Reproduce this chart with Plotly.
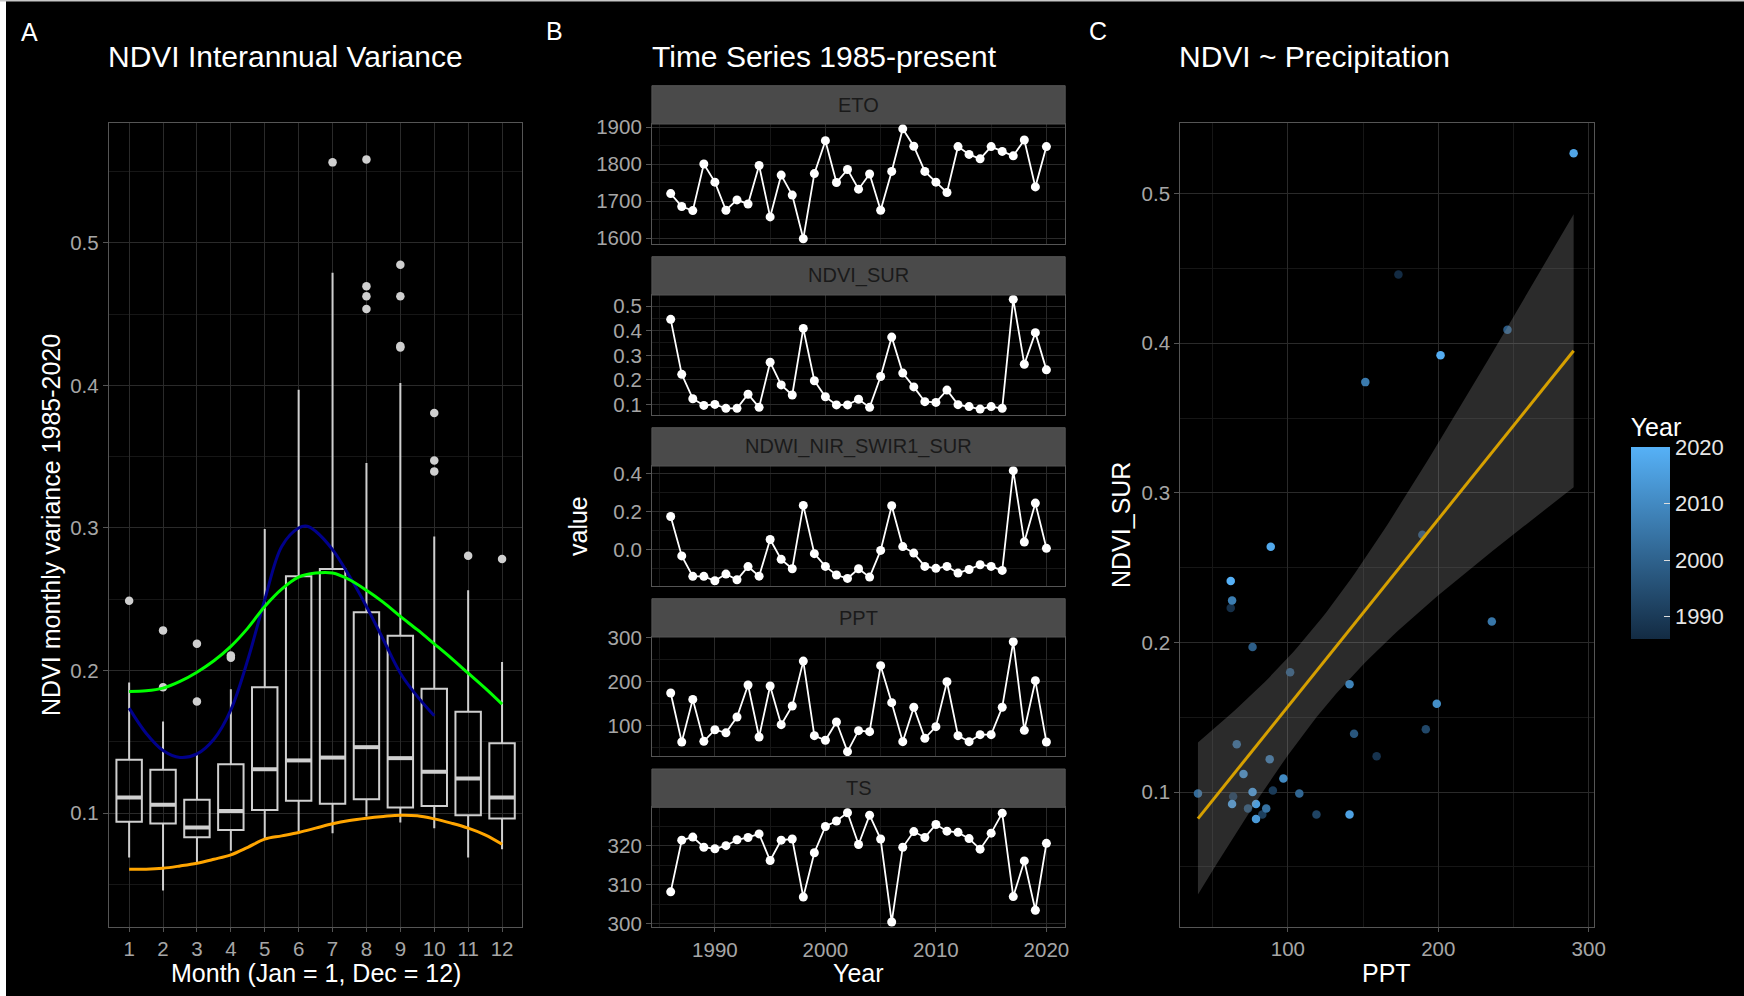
import numpy as np
import plotly.graph_objects as go

W, H = 1744, 996
FONT = "Liberation Sans, Arial, sans-serif"

# ---------------- Panel A data ----------------
months = list(range(1, 13))
box_lower = [0.0689, 0.0457, 0.0649, 0.0736, 0.0825, 0.0871, 0.0860, 0.0977, 0.0934, 0.0895, 0.0689, 0.0747]
box_q1 = [0.0940, 0.0927, 0.0832, 0.0883, 0.1023, 0.1087, 0.1066, 0.1098, 0.1040, 0.1051, 0.0986, 0.0963]
box_med = [0.1110, 0.1060, 0.0900, 0.1016, 0.1309, 0.1370, 0.1390, 0.1463, 0.1386, 0.1290, 0.1243, 0.1110]
box_q3 = [0.1374, 0.1304, 0.1094, 0.1344, 0.1884, 0.2661, 0.2712, 0.2410, 0.2244, 0.1873, 0.1711, 0.1491]
box_upper = [0.1917, 0.1643, 0.1410, 0.1870, 0.2993, 0.3970, 0.4790, 0.3455, 0.4017, 0.2940, 0.2563, 0.2060]
out_month = [1, 2, 2, 3, 3, 4, 4, 7, 8, 8, 8, 8, 9, 9, 9, 9, 10, 10, 10, 11, 12]
out_value = [0.249, 0.2282, 0.1884, 0.2188, 0.1784, 0.2105, 0.2090, 0.5564, 0.5585, 0.4696, 0.4625,
             0.4536, 0.4846, 0.4625, 0.4277, 0.4265, 0.3806, 0.3474, 0.3397, 0.2806, 0.2782]

green_x = [1, 1.5, 2, 2.5, 3, 3.5, 4, 4.5, 5, 5.5, 6, 6.5, 7, 7.5, 8, 8.5, 9, 9.5, 10, 10.5, 11, 11.5, 12]
green_y = [0.1854, 0.1858, 0.1877, 0.1924, 0.1989, 0.2069, 0.2170, 0.2298, 0.2450, 0.2572, 0.2656, 0.2684,
           0.2684, 0.2637, 0.2563, 0.2478, 0.2380, 0.2287, 0.2188, 0.2088, 0.1982, 0.1877, 0.1765]
blue_x = [1, 1.5, 2, 2.5, 3, 3.5, 4, 4.5, 5, 5.5, 6, 6.25, 6.5, 7, 7.5, 8, 8.5, 9, 9.5, 10]
blue_y = [0.1737, 0.1561, 0.1440, 0.1391, 0.1416, 0.1519, 0.1725, 0.2076, 0.2497, 0.2871, 0.3000, 0.3012,
          0.2977, 0.2848, 0.2661, 0.2450, 0.2216, 0.1982, 0.1819, 0.1683]
orange_x = green_x
orange_y = [0.0607, 0.0607, 0.0614, 0.0630, 0.0649, 0.0677, 0.0708, 0.0761, 0.0818, 0.0841, 0.0865, 0.0895,
            0.0926, 0.0949, 0.0965, 0.0977, 0.0986, 0.0982, 0.0960, 0.0930, 0.0895, 0.0848, 0.0782]

# ---------------- Panel B data ----------------
years = list(range(1986, 2021))
eto = [1720, 1685, 1674, 1800, 1751, 1675, 1703, 1692, 1796, 1657, 1770, 1716, 1598, 1774, 1863, 1750,
       1785, 1732, 1773, 1675, 1780, 1895, 1848, 1780, 1751, 1723, 1847, 1826, 1814, 1847, 1834, 1822,
       1865, 1738, 1847]
ndvi_sur = [0.446, 0.223, 0.124, 0.097, 0.101, 0.085, 0.085, 0.142, 0.089, 0.272, 0.180, 0.139, 0.409,
            0.197, 0.132, 0.099, 0.099, 0.122, 0.089, 0.214, 0.374, 0.228, 0.172, 0.112, 0.109, 0.159,
            0.100, 0.092, 0.082, 0.092, 0.085, 0.527, 0.264, 0.392, 0.241]
ndwi = [0.174, -0.033, -0.140, -0.140, -0.163, -0.128, -0.158, -0.089, -0.139, 0.053, -0.051, -0.100,
        0.232, -0.021, -0.088, -0.133, -0.151, -0.100, -0.144, -0.004, 0.230, 0.016, -0.018, -0.088,
        -0.098, -0.088, -0.123, -0.104, -0.079, -0.088, -0.109, 0.414, 0.040, 0.244, 0.007]
ppt = [173.5, 62.0, 159.0, 63.6, 90.0, 83.0, 119.0, 191.7, 73.5, 189.4, 101.5, 144.0, 246.0, 76.5, 66.0,
       107.6, 40.2, 87.9, 85.6, 235.6, 151.5, 62.9, 141.0, 70.5, 97.0, 199.0, 76.5, 62.9, 78.8, 78.8,
       141.0, 290.0, 88.6, 201.5, 62.0]
ts = [308.2, 321.4, 322.2, 319.6, 319.2, 320.0, 321.5, 322.1, 323.0, 316.2, 321.4, 321.7, 306.9, 318.2,
      324.9, 326.3, 328.4, 320.3, 327.8, 321.7, 300.5, 319.6, 323.6, 322.1, 325.4, 323.7, 323.4, 321.8,
      319.1, 323.2, 328.3, 307.0, 316.1, 303.5, 320.6]

facet_names = ["ETO", "NDVI_SUR", "NDWI_NIR_SWIR1_SUR", "PPT", "TS"]
facet_values = [eto, ndvi_sur, ndwi, ppt, ts]
facet_ranges = [[1583.8, 1908.1], [0.058, 0.5446], [-0.188, 0.4386], [30.3, 300.8], [299.15, 329.8]]
facet_tickvals = [[1600, 1700, 1800, 1900], [0.1, 0.2, 0.3, 0.4, 0.5], [0.0, 0.2, 0.4], [100, 200, 300],
                  [300, 310, 320]]
facet_ticktext = [["1600", "1700", "1800", "1900"], ["0.1", "0.2", "0.3", "0.4", "0.5"],
                  ["0.0", "0.2", "0.4"], ["100", "200", "300"], ["300", "310", "320"]]
facet_minor = [50, 0.05, 0.1, 50, 5]
year_ticks = [1990, 2000, 2010, 2020]

# ---------------- Layout geometry (pixels) ----------------
A_x = (108.8, 522.4)
B_x = (651.9, 1065.2)
C_x = (1180.2, 1593.5)
PANEL_Y = (123.3, 926.7)
B_panels = [(124.0, 244.0), (295.0, 415.0), (466.0, 585.5), (637.0, 756.0), (807.3, 927.3)]
STRIP_H = 38.3

GRID = "#2a2a2a"
MINOR = "#161616"
BORDER = "#555555"
TICKCOL = "#a6a6a6"
TICKSIZE = 20.5


def fx(p):
    return p / W


def fy(p):
    return 1 - p / H


def axis_style(**kw):
    d = dict(showgrid=True, gridcolor=GRID, gridwidth=1, zeroline=False, showline=True, mirror=True,
             linecolor=BORDER, linewidth=1, ticks="outside", ticklen=5, tickcolor=BORDER,
             tickfont=dict(family=FONT, size=TICKSIZE, color=TICKCOL))
    d.update(kw)
    return d


fig = go.Figure()
layout = dict(width=W, height=H, autosize=False, margin=dict(l=0, r=0, t=0, b=0, autoexpand=False),
              paper_bgcolor="black", plot_bgcolor="black", showlegend=False,
              font=dict(family=FONT, color="white"))

# ---------------- Panel A ----------------
layout["xaxis"] = axis_style(domain=[fx(A_x[0]), fx(A_x[1])], range=[0.4, 12.6], tickvals=months,
                             ticktext=[str(m) for m in months], anchor="y", ticklen=4)
layout["yaxis"] = axis_style(domain=[fy(PANEL_Y[1]), fy(PANEL_Y[0])], range=[0.0204, 0.5838],
                             tickvals=[0.1, 0.2, 0.3, 0.4, 0.5], ticktext=["0.1", "0.2", "0.3", "0.4", "0.5"],
                             anchor="x", minor=dict(dtick=0.05, tick0=0, showgrid=True, gridcolor=MINOR, ticks=""))

BOXCOL = "#cfcfcf"
fig.add_trace(go.Box(x=months, q1=box_q1, median=box_med, q3=box_q3, lowerfence=box_lower,
                     upperfence=box_upper, width=0.75, whiskerwidth=0, boxpoints=False,
                     line=dict(color=BOXCOL, width=2), fillcolor="rgba(0,0,0,0)", xaxis="x", yaxis="y"))
mx, my = [], []
for m, v in zip(months, box_med):
    mx += [m - 0.375, m + 0.375, None]
    my += [v, v, None]
fig.add_trace(go.Scatter(x=mx, y=my, mode="lines", line=dict(color=BOXCOL, width=4), xaxis="x", yaxis="y"))
fig.add_trace(go.Scatter(x=out_month, y=out_value, mode="markers", marker=dict(color=BOXCOL, size=8.5),
                         xaxis="x", yaxis="y"))
fig.add_trace(go.Scatter(x=orange_x, y=orange_y, mode="lines", line=dict(color="#FFA500", width=3, shape="spline"),
                         xaxis="x", yaxis="y"))
fig.add_trace(go.Scatter(x=blue_x, y=blue_y, mode="lines", line=dict(color="#00008B", width=3, shape="spline"),
                         xaxis="x", yaxis="y"))
fig.add_trace(go.Scatter(x=green_x, y=green_y, mode="lines", line=dict(color="#00FF00", width=3, shape="spline"),
                         xaxis="x", yaxis="y"))

# ---------------- Panel B ----------------
shapes = []
annotations = []
for i, (name, vals, rng, tv, tt, mn, (y0, y1)) in enumerate(
        zip(facet_names, facet_values, facet_ranges, facet_tickvals, facet_ticktext, facet_minor, B_panels)):
    k = i + 2
    last = (i == len(facet_names) - 1)
    xa = axis_style(domain=[fx(B_x[0]), fx(B_x[1])], range=[1984.3, 2021.7], tickvals=year_ticks,
                    ticktext=[str(t) for t in year_ticks], anchor="y%d" % k, showticklabels=last,
                    ticks="outside" if last else "", ticklen=4,
                    minor=dict(dtick=5, tick0=1985, showgrid=True, gridcolor=MINOR, ticks=""))
    ya = axis_style(domain=[fy(y1), fy(y0)], range=rng, tickvals=tv, ticktext=tt, anchor="x%d" % k,
                    minor=dict(dtick=mn, tick0=0, showgrid=True, gridcolor=MINOR, ticks=""))
    layout["xaxis%d" % k] = xa
    layout["yaxis%d" % k] = ya
    fig.add_trace(go.Scatter(x=years, y=vals, mode="lines+markers", line=dict(color="white", width=1.8),
                             marker=dict(color="white", size=9), xaxis="x%d" % k, yaxis="y%d" % k))
    shapes.append(dict(type="rect", xref="paper", yref="paper", x0=fx(B_x[0]), x1=fx(B_x[1]),
                       y0=fy(y0), y1=fy(y0 - STRIP_H), fillcolor="#4a4a4a", line=dict(color=BORDER, width=1),
                       layer="above"))
    annotations.append(dict(text=name, xref="paper", yref="paper", x=fx((B_x[0] + B_x[1]) / 2),
                            y=fy(y0 - STRIP_H / 2), xanchor="center", yanchor="middle", showarrow=False,
                            font=dict(family=FONT, size=20, color="#1a1a1a")))

# ---------------- Panel C ----------------
layout["xaxis7"] = axis_style(domain=[fx(C_x[0]), fx(C_x[1])], range=[28.4, 303.2], tickvals=[100, 200, 300],
                              ticktext=["100", "200", "300"], anchor="y7", ticklen=4,
                              minor=dict(dtick=50, tick0=0, showgrid=True, gridcolor=MINOR, ticks=""))
layout["yaxis7"] = axis_style(domain=[fy(PANEL_Y[1]), fy(PANEL_Y[0])], range=[0.010, 0.547],
                              tickvals=[0.1, 0.2, 0.3, 0.4, 0.5], ticktext=["0.1", "0.2", "0.3", "0.4", "0.5"],
                              anchor="x7", minor=dict(dtick=0.05, tick0=0, showgrid=True, gridcolor=MINOR, ticks=""))

fig.add_trace(go.Scatter(
    x=ppt, y=ndvi_sur, mode="markers", xaxis="x7", yaxis="y7",
    marker=dict(size=8.5, color=years, cmin=1986, cmax=2020,
                colorscale=[[0, "#132B43"], [1, "#56B1F7"]],
                colorbar=dict(x=fx(1630.7), xanchor="left", y=fy(639.3), yanchor="bottom", xpad=0, ypad=0,
                              len=225, lenmode="pixels", thickness=38.6, thicknessmode="pixels",
                              outlinewidth=0, tickvals=year_ticks, ticktext=[str(t) for t in year_ticks],
                              ticks="inside", ticklen=6, tickcolor="#dddddd", tickwidth=1,
                              tickfont=dict(family=FONT, size=22, color="#e6e6e6"),
                              title=dict(text="Year", side="top", font=dict(family=FONT, size=25, color="white"))))))

xarr = np.array(ppt)
yarr = np.array(ndvi_sur)
n = len(xarr)
b1, b0 = np.polyfit(xarr, yarr, 1)
xs = np.linspace(xarr.min(), xarr.max(), 80)
yhat = b0 + b1 * xs
resid = yarr - (b0 + b1 * xarr)
s = np.sqrt(np.sum(resid ** 2) / (n - 2))
sxx = np.sum((xarr - xarr.mean()) ** 2)
se = s * np.sqrt(1 / n + (xs - xarr.mean()) ** 2 / sxx)
tcrit = 2.0345  # t quantile 0.975, df = 33
upper = yhat + tcrit * se
lower = yhat - tcrit * se
fig.add_trace(go.Scatter(x=np.concatenate([xs, xs[::-1]]), y=np.concatenate([upper, lower[::-1]]),
                         fill="toself", fillcolor="rgba(153,153,153,0.28)", line=dict(width=0),
                         mode="lines", xaxis="x7", yaxis="y7"))
fig.add_trace(go.Scatter(x=xs, y=yhat, mode="lines", line=dict(color="#D6A000", width=3), xaxis="x7", yaxis="y7"))

# ---------------- Text ----------------
def ann(text, x, y, size, xanchor="left", angle=0, color="white"):
    annotations.append(dict(text=text, xref="paper", yref="paper", x=fx(x), y=fy(y), xanchor=xanchor,
                            yanchor="middle", showarrow=False, textangle=angle, borderpad=0,
                            font=dict(family=FONT, size=size, color=color)))


ann("A", 20, 32, 25)
ann("B", 545, 31, 25)
ann("C", 1088, 31, 25)
ann("NDVI Interannual Variance", 107, 56, 30)
ann("Time Series 1985-present", 651, 56, 30)
ann("NDVI ~ Precipitation", 1178, 56, 30)
ann("Month (Jan = 1, Dec = 12)", (A_x[0] + A_x[1]) / 2, 973, 25, xanchor="center")
ann("Year", (B_x[0] + B_x[1]) / 2, 973, 25, xanchor="center")
ann("PPT", (C_x[0] + C_x[1]) / 2, 973, 25, xanchor="center")
ann("NDVI monthly variance 1985-2020", 51, 525, 25, xanchor="center", angle=-90)
ann("value", 578, 526, 25, xanchor="center", angle=-90)
ann("NDVI_SUR", 1121, 525, 25, xanchor="center", angle=-90)

# page edge artefacts
shapes.append(dict(type="rect", xref="paper", yref="paper", x0=0, x1=fx(6), y0=0, y1=1,
                   fillcolor="white", line=dict(width=0), layer="above"))
shapes.append(dict(type="rect", xref="paper", yref="paper", x0=0, x1=1, y0=fy(1.5), y1=1,
                   fillcolor="#c8c8c8", line=dict(width=0), layer="above"))

layout["shapes"] = shapes
layout["annotations"] = annotations
fig.update_layout(**layout)

fig.write_html("out.html", config={"displayModeBar": False, "responsive": False},
               post_script="document.body.style.margin='0';document.body.style.overflow='hidden';"
                           "document.documentElement.style.overflow='hidden';")
